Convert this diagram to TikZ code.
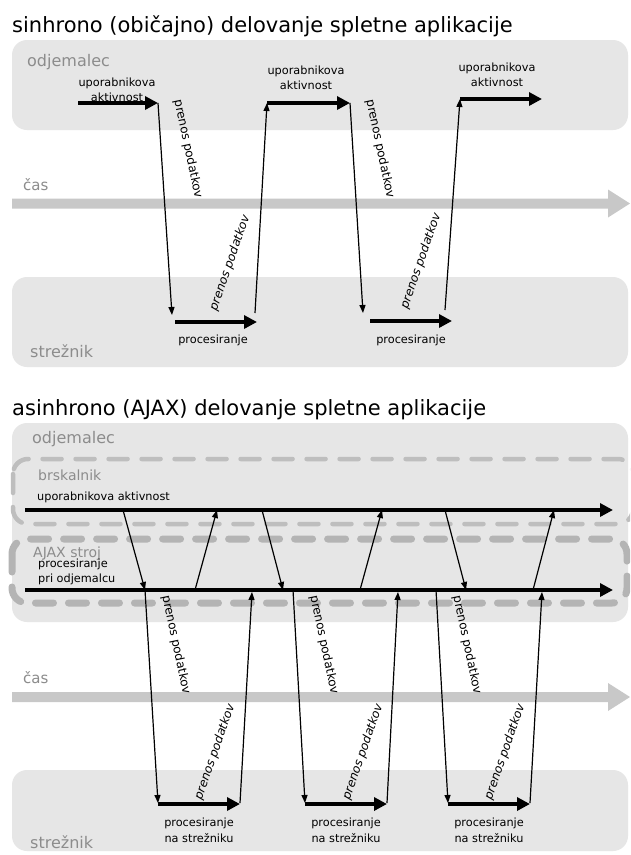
\documentclass[tikz,border=0pt]{standalone}
\usepackage{fontspec}
\setmainfont{DejaVu Sans}[ItalicFont={DejaVu Sans Oblique}]
\usetikzlibrary{arrows.meta}

\definecolor{panel}{HTML}{E6E6E6}
\definecolor{caption}{HTML}{8C8C8C}
\definecolor{timeline}{HTML}{C8C8C8}
\definecolor{dashA}{HTML}{BEBEBE}
\definecolor{dashB}{HTML}{B4B4B4}

\tikzset{
  panelbox/.style={fill=panel, rounded corners=15pt},
  tiername/.style={text=caption, font=\fontsize{16}{18}\selectfont, inner sep=0pt, anchor=base west},
  subname/.style={text=caption, font=\fontsize{14}{16}\selectfont, inner sep=0pt, anchor=base west},
  heading/.style={font=\fontsize{21}{24}\selectfont, inner sep=0pt, anchor=base west},
  note/.style={font=\fontsize{11.3}{15}\selectfont, inner sep=0pt, align=center},
  transfer/.style={line width=1.2pt, -{Triangle[length=8pt,width=6pt]}},
  work/.style={line width=4pt, -{Triangle[length=13pt,width=13pt]}},
  xferdown/.style={font=\fontsize{12}{14}\selectfont, inner sep=0pt, rotate=-78},
  xferup/.style={font=\fontsize{12}{14}\selectfont\itshape, inner sep=0pt, rotate=71},
  timearrow/.style={fill=timeline},
}

\begin{document}
\begin{tikzpicture}[x=1pt,y=-1pt]
\useasboundingbox (0,0) rectangle (630,855);
\clip (0,0) rectangle (630,855);
\fill[white] (0,0) rectangle (630,855);

% ---------------- synchronous operation ----------------
\node[heading] (title1) at (12,32) {sinhrono (običajno) delovanje spletne aplikacije};

\fill[panelbox] (12,40) rectangle (628,130);
\fill[panelbox] (12,277) rectangle (628,367);
\node[tiername] (client1) at (27,66) {odjemalec};
\node[tiername] (server1) at (30,357) {strežnik};

\fill[timearrow] (12,198.5) -- (608,198.5) -- (608,189.5) -- (630,203.5) -- (608,217.5) -- (608,208.5) -- (12,208.5) -- cycle;
\node[tiername, font=\fontsize{15}{17}\selectfont] (time1) at (23,190) {čas};

% user activity on the client
\coordinate (ua1s) at (78,103);  \coordinate (ua1e) at (158,103);
\coordinate (ua2s) at (267,103); \coordinate (ua2e) at (350,103);
\coordinate (ua3s) at (460,99);  \coordinate (ua3e) at (542,99);
% processing on the server
\coordinate (pr1s) at (175,322); \coordinate (pr1e) at (257,322);
\coordinate (pr2s) at (370,321); \coordinate (pr2e) at (452,321);
% ends of the transfer lines
\coordinate (dn1) at (172,315); \coordinate (up1) at (255,313);
\coordinate (dn2) at (363,313); \coordinate (up2) at (445,310);

\draw[work] (ua1s) -- (ua1e);
\draw[work] (ua2s) -- (ua2e);
\draw[work] (ua3s) -- (ua3e);
\draw[work] (pr1s) -- (pr1e);
\draw[work] (pr2s) -- (pr2e);

\draw[transfer] (ua1e) -- (dn1);
\draw[transfer] (up1) -- (ua2s);
\draw[transfer] (ua2e) -- (dn2);
\draw[transfer] (up2) -- (ua3s);

\node[note] (act1) at (117,90) {uporabnikova\\aktivnost};
\node[note] (act2) at (306,78) {uporabnikova\\aktivnost};
\node[note] (act3) at (497,75) {uporabnikova\\aktivnost};
\node[note] (proc1) at (213,340) {procesiranje};
\node[note] (proc2) at (411,340) {procesiranje};

\node[xferdown] (td1) at (188,149) {prenos podatkov};
\node[xferdown] (td2) at (380,149) {prenos podatkov};
\node[xferup] (tu1) at (230,263) {prenos podatkov};
\node[xferup] (tu2) at (421,261) {prenos podatkov};

% ---------------- asynchronous (AJAX) operation ----------------
\node[heading] (title2) at (12,415) {asinhrono (AJAX) delovanje spletne aplikacije};

\fill[panelbox] (12,423) rectangle (628,622);
\fill[panelbox] (12,770) rectangle (628,851);
\node[tiername] (client2) at (32,443) {odjemalec};
\node[tiername] (server2) at (30,848) {strežnik};

\draw[dashA, line width=4.5pt, rounded corners=15pt, line cap=round, dash pattern=on 19pt off 14pt]
  (13,459) rectangle (633,524);
\draw[dashB, line width=7pt, rounded corners=15pt, line cap=round, dash pattern=on 18pt off 15pt]
  (12,539) rectangle (627,603);
\node[subname] (browser) at (38,480) {brskalnik};
\node[subname] (engine) at (33,557) {AJAX stroj};

\fill[timearrow] (12,692) -- (608,692) -- (608,683) -- (630,697) -- (608,711) -- (608,702) -- (12,702) -- cycle;
\node[tiername, font=\fontsize{15}{17}\selectfont] (time2) at (23,683) {čas};

% browser and engine timelines
\coordinate (brs) at (25,510); \coordinate (bre) at (613,510);
\coordinate (ens) at (25,590); \coordinate (ene) at (613,590);
\draw[work] (brs) -- (bre);
\draw[work] (ens) -- (ene);

% browser <-> engine
\coordinate (b1a) at (123,510); \coordinate (e1a) at (145,590);
\coordinate (e1b) at (195,590); \coordinate (b1b) at (217,510);
\coordinate (b2a) at (262,510); \coordinate (e2a) at (283,590);
\coordinate (e2b) at (360,590); \coordinate (b2b) at (382,510);
\coordinate (b3a) at (445,510); \coordinate (e3a) at (466,590);
\coordinate (e3b) at (533,590); \coordinate (b3b) at (554,510);
\draw[transfer] (b1a) -- (e1a);
\draw[transfer] (e1b) -- (b1b);
\draw[transfer] (b2a) -- (e2a);
\draw[transfer] (e2b) -- (b2b);
\draw[transfer] (b3a) -- (e3a);
\draw[transfer] (e3b) -- (b3b);

% engine <-> server
\coordinate (s1s) at (158,804); \coordinate (s1e) at (240,804);
\coordinate (s2s) at (305,804); \coordinate (s2e) at (387,804);
\coordinate (s3s) at (448,804); \coordinate (s3e) at (530,804);
\coordinate (e2c) at (293,590); \coordinate (e3c) at (436,590);
\coordinate (r1) at (252,592); \coordinate (r2) at (398,592); \coordinate (r3) at (542,592);
\coordinate (q1) at (158,803); \coordinate (q2) at (305,803); \coordinate (q3) at (448,803);
\coordinate (o1) at (240,803); \coordinate (o2) at (387,803); \coordinate (o3) at (530,803);

\draw[work] (s1s) -- (s1e);
\draw[work] (s2s) -- (s2e);
\draw[work] (s3s) -- (s3e);

\draw[transfer] (e1a) -- (q1);
\draw[transfer] (o1) -- (r1);
\draw[transfer] (e2c) -- (q2);
\draw[transfer] (o2) -- (r2);
\draw[transfer] (e3c) -- (q3);
\draw[transfer] (o3) -- (r3);

\node[note, anchor=base west] (act4) at (37,500) {uporabnikova aktivnost};
\node[note, align=left, anchor=west] (cproc) at (38,572) {procesiranje\\pri odjemalcu};
\node[note, font=\fontsize{11.3}{16}\selectfont] (sproc1) at (199,830) {procesiranje\\na strežniku};
\node[note, font=\fontsize{11.3}{16}\selectfont] (sproc2) at (346,830) {procesiranje\\na strežniku};
\node[note, font=\fontsize{11.3}{16}\selectfont] (sproc3) at (489,830) {procesiranje\\na strežniku};

\node[xferdown] (bd1) at (176,645) {prenos podatkov};
\node[xferdown] (bd2) at (324,645) {prenos podatkov};
\node[xferdown] (bd3) at (467,645) {prenos podatkov};
\node[xferup] (bu1) at (215,752) {prenos podatkov};
\node[xferup] (bu2) at (363,752) {prenos podatkov};
\node[xferup] (bu3) at (505,752) {prenos podatkov};
\end{tikzpicture}
\end{document}
